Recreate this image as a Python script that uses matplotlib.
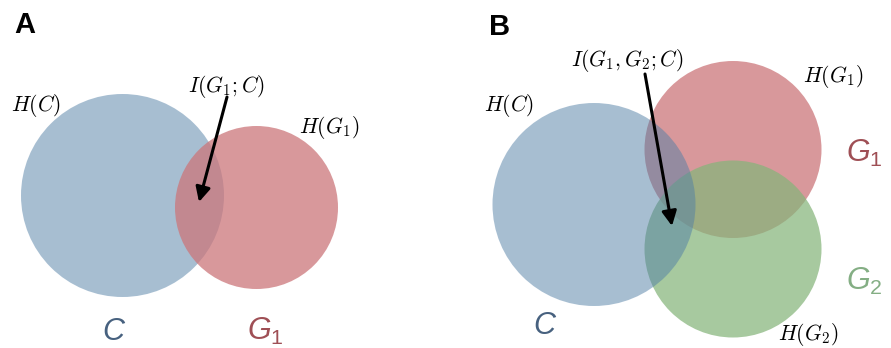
import matplotlib
matplotlib.use("Agg")
from matplotlib import pyplot as plt
from matplotlib.patches import Circle

plt.rcParams['mathtext.fontset'] = 'cm'
plt.rcParams['mathtext.it'] = 'Liberation Sans:italic'
plt.rcParams['mathtext.rm'] = 'Liberation Sans'
plt.rcParams['mathtext.sf'] = 'Liberation Sans'

# circles, in figure pixel coordinates (x, y from top), radius
circles_a = [(122.5, 195.5, 101.5), (256.5, 207.5, 81.5)]
circles_b = [(594.0, 204.5, 101.5), (733.0, 149.5, 88.5), (733.0, 249.0, 88.5)]

blue = (81/255, 127/255, 165/255)
red = (204/255, 118/255, 122/255)
green = (133/255, 180/255, 122/255)

# entropy labels (mathtext), left x, baseline y
entropy_labels = [r'$H(C)$', r'$I(G_1;C)$', r'$H(G_1)$',
                  r'$H(C)$', r'$I(G_1,G_2;C)$', r'$H(G_1)$', r'$H(G_2)$']
entropy_pos = [(11, 111), (188, 92), (299, 133),
               (484, 111), (571, 66), (803, 82), (778, 340)]

# set names
set_labels = [r'$C$', r'$G_{\mathit{1}}$', r'$C$', r'$G_{\mathit{1}}$', r'$G_{\mathit{2}}$']
set_pos = [(102, 340), (247, 340), (533, 334), (846, 162), (846, 290)]
set_colors = ['#47617f', '#9f4f55', '#47617f', '#9f4f55', '#84ae84']

arrows = [((227, 97), (199, 202)), ((645, 74), (672, 226))]

fig = plt.figure(figsize=(8.91, 3.48), dpi=100)
ax = fig.add_axes([0, 0, 1, 1])
ax.set_xlim(0, 891)
ax.set_ylim(348, 0)
ax.axis('off')

#panel A: blue below, red on top
ax.add_patch(Circle(circles_a[0][:2], circles_a[0][2], facecolor=blue, alpha=0.5, lw=0))
ax.add_patch(Circle(circles_a[1][:2], circles_a[1][2], facecolor=red, alpha=0.75, lw=0))

#panel B: red, green, then blue on top
ax.add_patch(Circle(circles_b[1][:2], circles_b[1][2], facecolor=red, alpha=0.75, lw=0))
ax.add_patch(Circle(circles_b[2][:2], circles_b[2][2], facecolor=green, alpha=0.72, lw=0))
ax.add_patch(Circle(circles_b[0][:2], circles_b[0][2], facecolor=blue, alpha=0.5, lw=0))

for s, (x, y) in zip(entropy_labels, entropy_pos):
    ax.text(x, y, s, fontsize=15.5, ha='left', va='baseline')

for s, (x, y), c in zip(set_labels, set_pos, set_colors):
    ax.text(x, y, s, fontsize=22, ha='left', va='baseline', color=c,
            math_fontfamily='custom')

for (x0, y0), (x1, y1) in arrows:
    ax.annotate('', xy=(x1, y1), xytext=(x0, y0),
                arrowprops=dict(arrowstyle='-|>', color='k', lw=2.2,
                                mutation_scale=22, shrinkA=0, shrinkB=0))

ax.text(14, 33, 'A', fontsize=21, fontweight='bold', family='Liberation Sans', va='baseline')
ax.text(489, 35, 'B', fontsize=21, fontweight='bold', family='Liberation Sans', va='baseline')

fig.savefig('out.png', dpi=100)
